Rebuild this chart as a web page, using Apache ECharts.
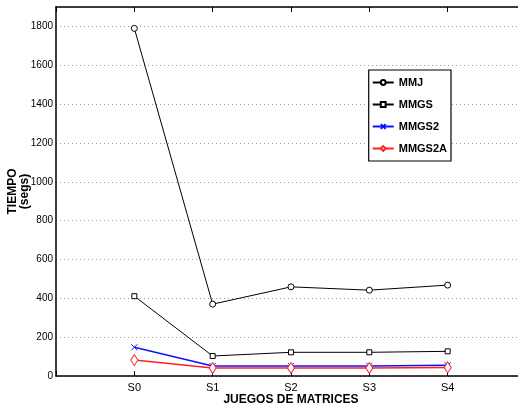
<!DOCTYPE html>
<html>
<head>
<meta charset="utf-8">
<script src="https://cdn.jsdelivr.net/npm/echarts@6/dist/echarts.min.js"></script>
<style>
  html,body{margin:0;padding:0;background:#fff;}
  #main{width:518px;height:412px;}
</style>
</head>
<body>
<div id="main"></div>
<script>
// juegos de matrices
var categories = ['S0', 'S1', 'S2', 'S3', 'S4'];
var mmj = [1790, 370, 459, 442, 468];
var mmgs = [411, 103, 122, 122, 127];
var mmgs2 = [148, 51, 51, 52, 55];
var mmgs2a = [82, 41, 41, 41, 44];
var yTicks = [0, 200, 400, 600, 800, 1000, 1200, 1400, 1600, 1800];

var font = '"Liberation Sans Narrow","Liberation Sans",Arial,sans-serif';
// padding slots so S0..S4 sit at 1..5 on a 0..6 range
var axisData = [''].concat(categories).concat(['']);
function pad(arr){ return [null].concat(arr).concat([null]); }

var chart = echarts.init(document.getElementById('main'), null, {renderer:'canvas'});

function line(name, data, color, width, symbol, size, fillColor){
  return {
    name: name,
    type: 'line',
    data: pad(data),
    symbol: symbol,
    symbolSize: size,
    showAllSymbol: true,
    animation: false,
    connectNulls: false,
    lineStyle: {color: color, width: width},
    itemStyle: {color: fillColor, borderColor: color, borderWidth: 1}
  };
}

var option = {
  backgroundColor: '#fff',
  animation: false,
  grid: {left: 56, top: 7, bottom: 36, right: -8, containLabel: false, outerBoundsMode: 'none'},
  legend: {
    right: 67, top: 70,
    orient: 'vertical',
    itemWidth: 21, itemHeight: 6, itemGap: 11,
    padding: [7, 4, 7, 3],
    borderColor: '#000', borderWidth: 1.2,
    backgroundColor: '#fff',
    textStyle: {fontFamily: font, fontWeight: 'bold', fontSize: 11, color: '#000'},
    data: ['MMJ', 'MMGS', 'MMGS2', 'MMGS2A']
  },
  xAxis: [{
    type: 'category',
    data: axisData,
    boundaryGap: false,
    name: 'JUEGOS DE MATRICES',
    nameLocation: 'middle',
    nameGap: 18,
    nameMoveOverlap: false,
    nameTextStyle: {fontFamily: font, fontWeight: 'bold', fontSize: 12, color: '#000'},
    axisLine: {lineStyle: {color: '#000', width: 1.5}},
    axisTick: {inside: true, length: 5, alignWithLabel: true, lineStyle: {color: '#000'}},
    axisLabel: {fontFamily: font, fontSize: 11, color: '#000', margin: 6},
    splitLine: {show: false}
  }, {
    type: 'category',
    data: axisData,
    boundaryGap: false,
    position: 'top',
    axisLine: {lineStyle: {color: '#000', width: 1.5}},
    axisTick: {inside: true, length: 5, lineStyle: {color: '#000'}},
    axisLabel: {show: false},
    splitLine: {show: false}
  }],
  yAxis: {
    type: 'value',
    min: 0, max: 1900, interval: 200,
    name: 'TIEMPO\n(segs)',
    nameLocation: 'middle',
    nameGap: 25,
    nameMoveOverlap: false,
    nameRotate: 90,
    nameTextStyle: {fontFamily: font, fontWeight: 'bold', fontSize: 12, color: '#000', lineHeight: 12},
    axisLine: {show: true, lineStyle: {color: '#000', width: 1.5}},
    axisTick: {show: false},
    axisLabel: {
      fontFamily: font, fontSize: 10, color: '#000', margin: 3, showMaxLabel: false,
      formatter: function(v){ return yTicks.indexOf(v) >= 0 ? String(v) : ''; }
    },
    splitLine: {lineStyle: {color: '#999', type: [1, 3], width: 1}}
  },
  series: [
    line('MMJ', mmj, '#000', 1, 'circle', 6, '#fff'),
    line('MMGS', mmgs, '#000', 1, 'rect', 5, '#fff'),
    line('MMGS2', mmgs2, '#1010ff', 1.5, 'path://M0,0L10,10M10,0L0,10', 6, 'none'),
    line('MMGS2A', mmgs2a, '#ff2020', 1.5, 'diamond', [7, 11], '#fff')
  ]
};
chart.setOption(option);
</script>
</body>
</html>
